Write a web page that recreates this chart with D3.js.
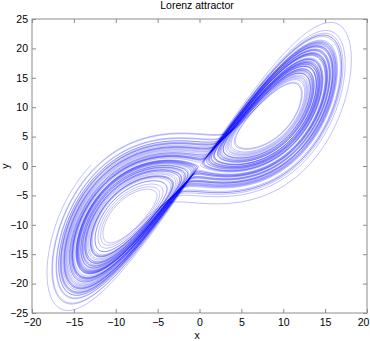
<!DOCTYPE html>
<html><head><meta charset="utf-8">
<script src="https://cdn.jsdelivr.net/npm/d3@7"></script>
<style>body{margin:0;background:#fff}svg{display:block}text{font-family:"Liberation Sans",Arial,sans-serif}</style>
</head><body>
<script>
// Lorenz system: parameters [sigma, rho, beta], initial state, plotted time window, step
const params = [10, 28, 8/3];
const initialState = [1, 1, 1];
const timeSpan = [219, 319];
const stepSize = [0.005];
const xTicks = [-20,-15,-10,-5,0,5,10,15,20];
const yTicks = [-25,-20,-15,-10,-5,0,5,10,15,20,25];

function deriv(s){const [sg,r,b]=params;return [sg*(s[1]-s[0]), s[0]*(r-s[2])-s[1], s[0]*s[1]-b*s[2]];}
const pts=[];
let s=initialState.slice(); const h=stepSize[0];
const n0=Math.round(timeSpan[0]/h), n1=Math.round(timeSpan[1]/h);
for(let i=0;i<=n1;i++){
  if(i>=n0) pts.push([s[0],s[1]]);
  const k1=deriv(s);
  const k2=deriv(s.map((v,j)=>v+h/2*k1[j]));
  const k3=deriv(s.map((v,j)=>v+h/2*k2[j]));
  const k4=deriv(s.map((v,j)=>v+h*k3[j]));
  s=s.map((v,j)=>v+h/6*(k1[j]+2*k2[j]+2*k3[j]+k4[j]));
}

const W=370,H=341,m={l:32,r:3,t:19,b:28};
const svg=d3.select("body").append("svg").attr("width",W).attr("height",H);
const x=d3.scaleLinear().domain([-20,20]).range([m.l,W-m.r]);
const y=d3.scaleLinear().domain([-25,25]).range([H-m.b,m.t]);

svg.append("path").datum(pts).attr("fill","none").attr("stroke","#0000ff").attr("stroke-opacity",0.45)
 .attr("stroke-width",0.55).attr("d",d3.line().x(d=>x(d[0])).y(d=>y(d[1])));

const ax="#8c8c8c";
function style(sel){sel.select(".domain").remove();sel.selectAll(".tick line").attr("stroke",ax);sel.selectAll("text").attr("fill","#000").style("font-size","10.5px");}
const bx=svg.append("g").attr("transform",`translate(0,${H-m.b})`).call(d3.axisBottom(x).tickValues(xTicks).tickSizeInner(-4).tickSizeOuter(0).tickPadding(6)).call(style);
bx.selectAll(".tick text").filter(d=>d===20).attr("dx",-4);
svg.append("g").attr("transform",`translate(0,${m.t})`).call(d3.axisTop(x).tickValues(xTicks).tickSizeInner(-4).tickSizeOuter(0).tickFormat("")).call(style);
svg.append("g").attr("transform",`translate(${m.l},0)`).call(d3.axisLeft(y).tickValues(yTicks).tickSizeInner(-4).tickSizeOuter(0).tickPadding(4)).call(style);
svg.append("g").attr("transform",`translate(${W-m.r},0)`).call(d3.axisRight(y).tickValues(yTicks).tickSizeInner(-4).tickSizeOuter(0).tickFormat("")).call(style);
svg.append("rect").attr("x",m.l).attr("y",m.t).attr("width",W-m.l-m.r).attr("height",H-m.t-m.b).attr("fill","none").attr("stroke",ax).attr("stroke-width",1);

svg.append("text").attr("x",197).attr("y",9).attr("text-anchor","middle").style("font-size","10.5px").text("Lorenz attractor");
svg.append("text").attr("x",197).attr("y",339).attr("text-anchor","middle").style("font-size","10.5px").text("x");
svg.append("text").attr("transform",`translate(9,${(m.t+H-m.b)/2}) rotate(-90)`).attr("text-anchor","middle").style("font-size","10.5px").text("y");
</script>
</body></html>
